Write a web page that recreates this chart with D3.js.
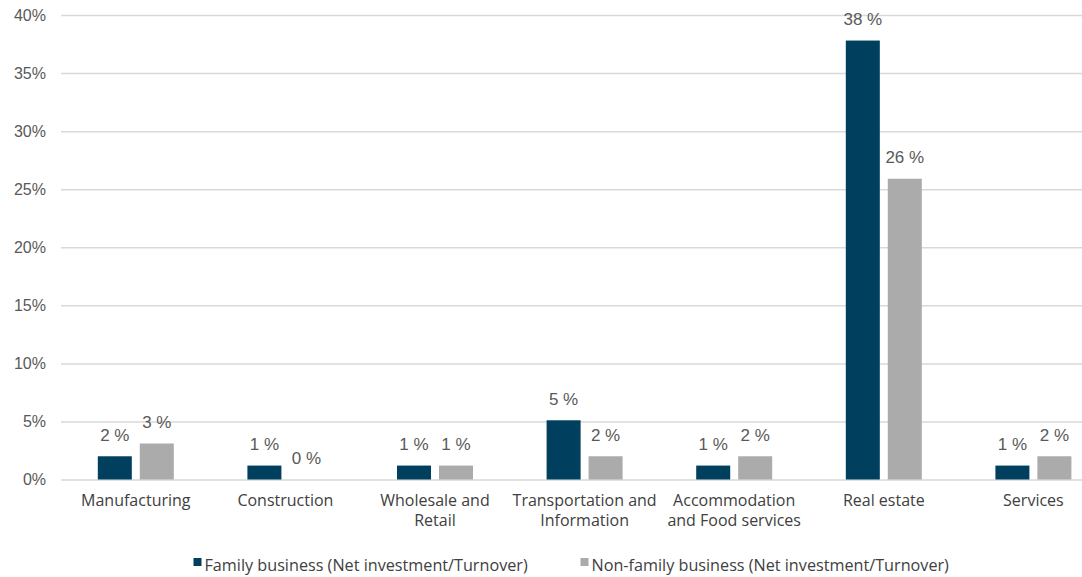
<!DOCTYPE html>
<html>
<head>
<meta charset="utf-8">
<script src="https://cdn.jsdelivr.net/npm/d3@7"></script>
<style>
  html, body { margin: 0; padding: 0; background: #fff; }
  svg { display: block; }
</style>
</head>
<body>
<svg id="chart" width="1082" height="577"></svg>
<script>
// Sector categories (two-line labels are split on "\n")
const categories = [
  "Manufacturing",
  "Construction",
  "Wholesale and\nRetail",
  "Transportation and\nInformation",
  "Accommodation\nand Food services",
  "Real estate",
  "Services"
];

// Net investment as a share of turnover, in percent
const familyValues    = [2.0, 1.2, 1.2, 5.1, 1.2, 37.8, 1.2];
const nonFamilyValues = [3.1, 0.0, 1.2, 2.0, 2.0, 25.9, 2.0];

const seriesNames = [
  "Family business (Net investment/Turnover)",
  "Non-family business (Net investment/Turnover)"
];
const seriesColors = ["#00405e", "#ababab"];

const yTicks = [0, 5, 10, 15, 20, 25, 30, 35, 40];

const series = [familyValues, nonFamilyValues];
const rows = categories.map((c, i) => ({ cat: c, values: series.map(s => s[i]) }));

const svg = d3.select("#chart");
const margin = { left: 61, top: 15, bottom: 97.5 };
const step = 149.6;
const plotW = step * categories.length;
const plotH = 577 - margin.top - margin.bottom;

const x0 = d3.scaleBand()
  .domain(categories)
  .range([margin.left, margin.left + plotW])
  .paddingInner(0.492)
  .paddingOuter(0.246);

const x1 = d3.scaleBand()
  .domain([0, 1])
  .range([0, x0.bandwidth()])
  .paddingInner(0.19);

const y = d3.scaleLinear()
  .domain([0, 40])
  .range([margin.top + plotH, margin.top]);

// Horizontal gridlines and percentage tick labels
const yAxis = d3.axisLeft(y)
  .tickValues(yTicks)
  .tickFormat(d => d + "%")
  .tickSize(-plotW)
  .tickPadding(15);

const gy = svg.append("g")
  .attr("transform", `translate(${margin.left},0)`)
  .call(yAxis);
gy.select(".domain").remove();
gy.selectAll(".tick line")
  .attr("stroke", "#d9d9d9")
  .attr("stroke-width", 1.5);
gy.selectAll(".tick text")
  .attr("fill", "#595959")
  .attr("font-family", "'Liberation Sans', Arial, sans-serif")
  .attr("font-size", 16);

// Grouped bars
const groups = svg.append("g")
  .selectAll("g")
  .data(rows)
  .join("g")
  .attr("transform", d => `translate(${x0(d.cat)},0)`);

groups.selectAll("rect")
  .data(d => d.values.map((v, k) => ({ v, k })))
  .join("rect")
  .attr("x", d => x1(d.k))
  .attr("width", x1.bandwidth())
  .attr("y", d => y(d.v))
  .attr("height", d => y(0) - y(d.v))
  .attr("fill", d => seriesColors[d.k]);

// Value labels above each bar
groups.selectAll("text.val")
  .data(d => d.values.map((v, k) => ({ v, k })))
  .join("text")
  .attr("class", "val")
  .attr("x", d => x1(d.k) + x1.bandwidth() / 2)
  .attr("y", d => y(d.v) - 15.5)
  .attr("text-anchor", "middle")
  .attr("fill", "#595959")
  .attr("font-family", "'Liberation Sans', Arial, sans-serif")
  .attr("font-size", 17)
  .text(d => Math.round(d.v) + " %");

// Category labels below the baseline
const catLabels = svg.append("g")
  .selectAll("text")
  .data(categories)
  .join("text")
  .attr("x", d => x0(d) + x0.bandwidth() / 2)
  .attr("y", y(0) + 26)
  .attr("text-anchor", "middle")
  .attr("fill", "#404040")
  .attr("font-family", "'Open Sans', 'Noto Sans', sans-serif")
  .attr("font-size", 16);

catLabels.selectAll("tspan")
  .data(d => d.split("\n"))
  .join("tspan")
  .attr("x", function () { return d3.select(this.parentNode).attr("x"); })
  .attr("dy", (d, i) => i === 0 ? 0 : 20)
  .text(d => d);

// Legend
const legendX = [193.5, 580.5];
const legend = svg.append("g")
  .selectAll("g")
  .data(seriesNames)
  .join("g")
  .attr("transform", (d, i) => `translate(${legendX[i]},558)`);

legend.append("rect")
  .attr("width", 8)
  .attr("height", 8)
  .attr("fill", (d, i) => seriesColors[i]);

legend.append("text")
  .attr("x", 11)
  .attr("y", 13)
  .attr("fill", "#404040")
  .attr("font-family", "'Open Sans', 'Noto Sans', sans-serif")
  .attr("font-size", 16.2)
  .text(d => d);
</script>
</body>
</html>
